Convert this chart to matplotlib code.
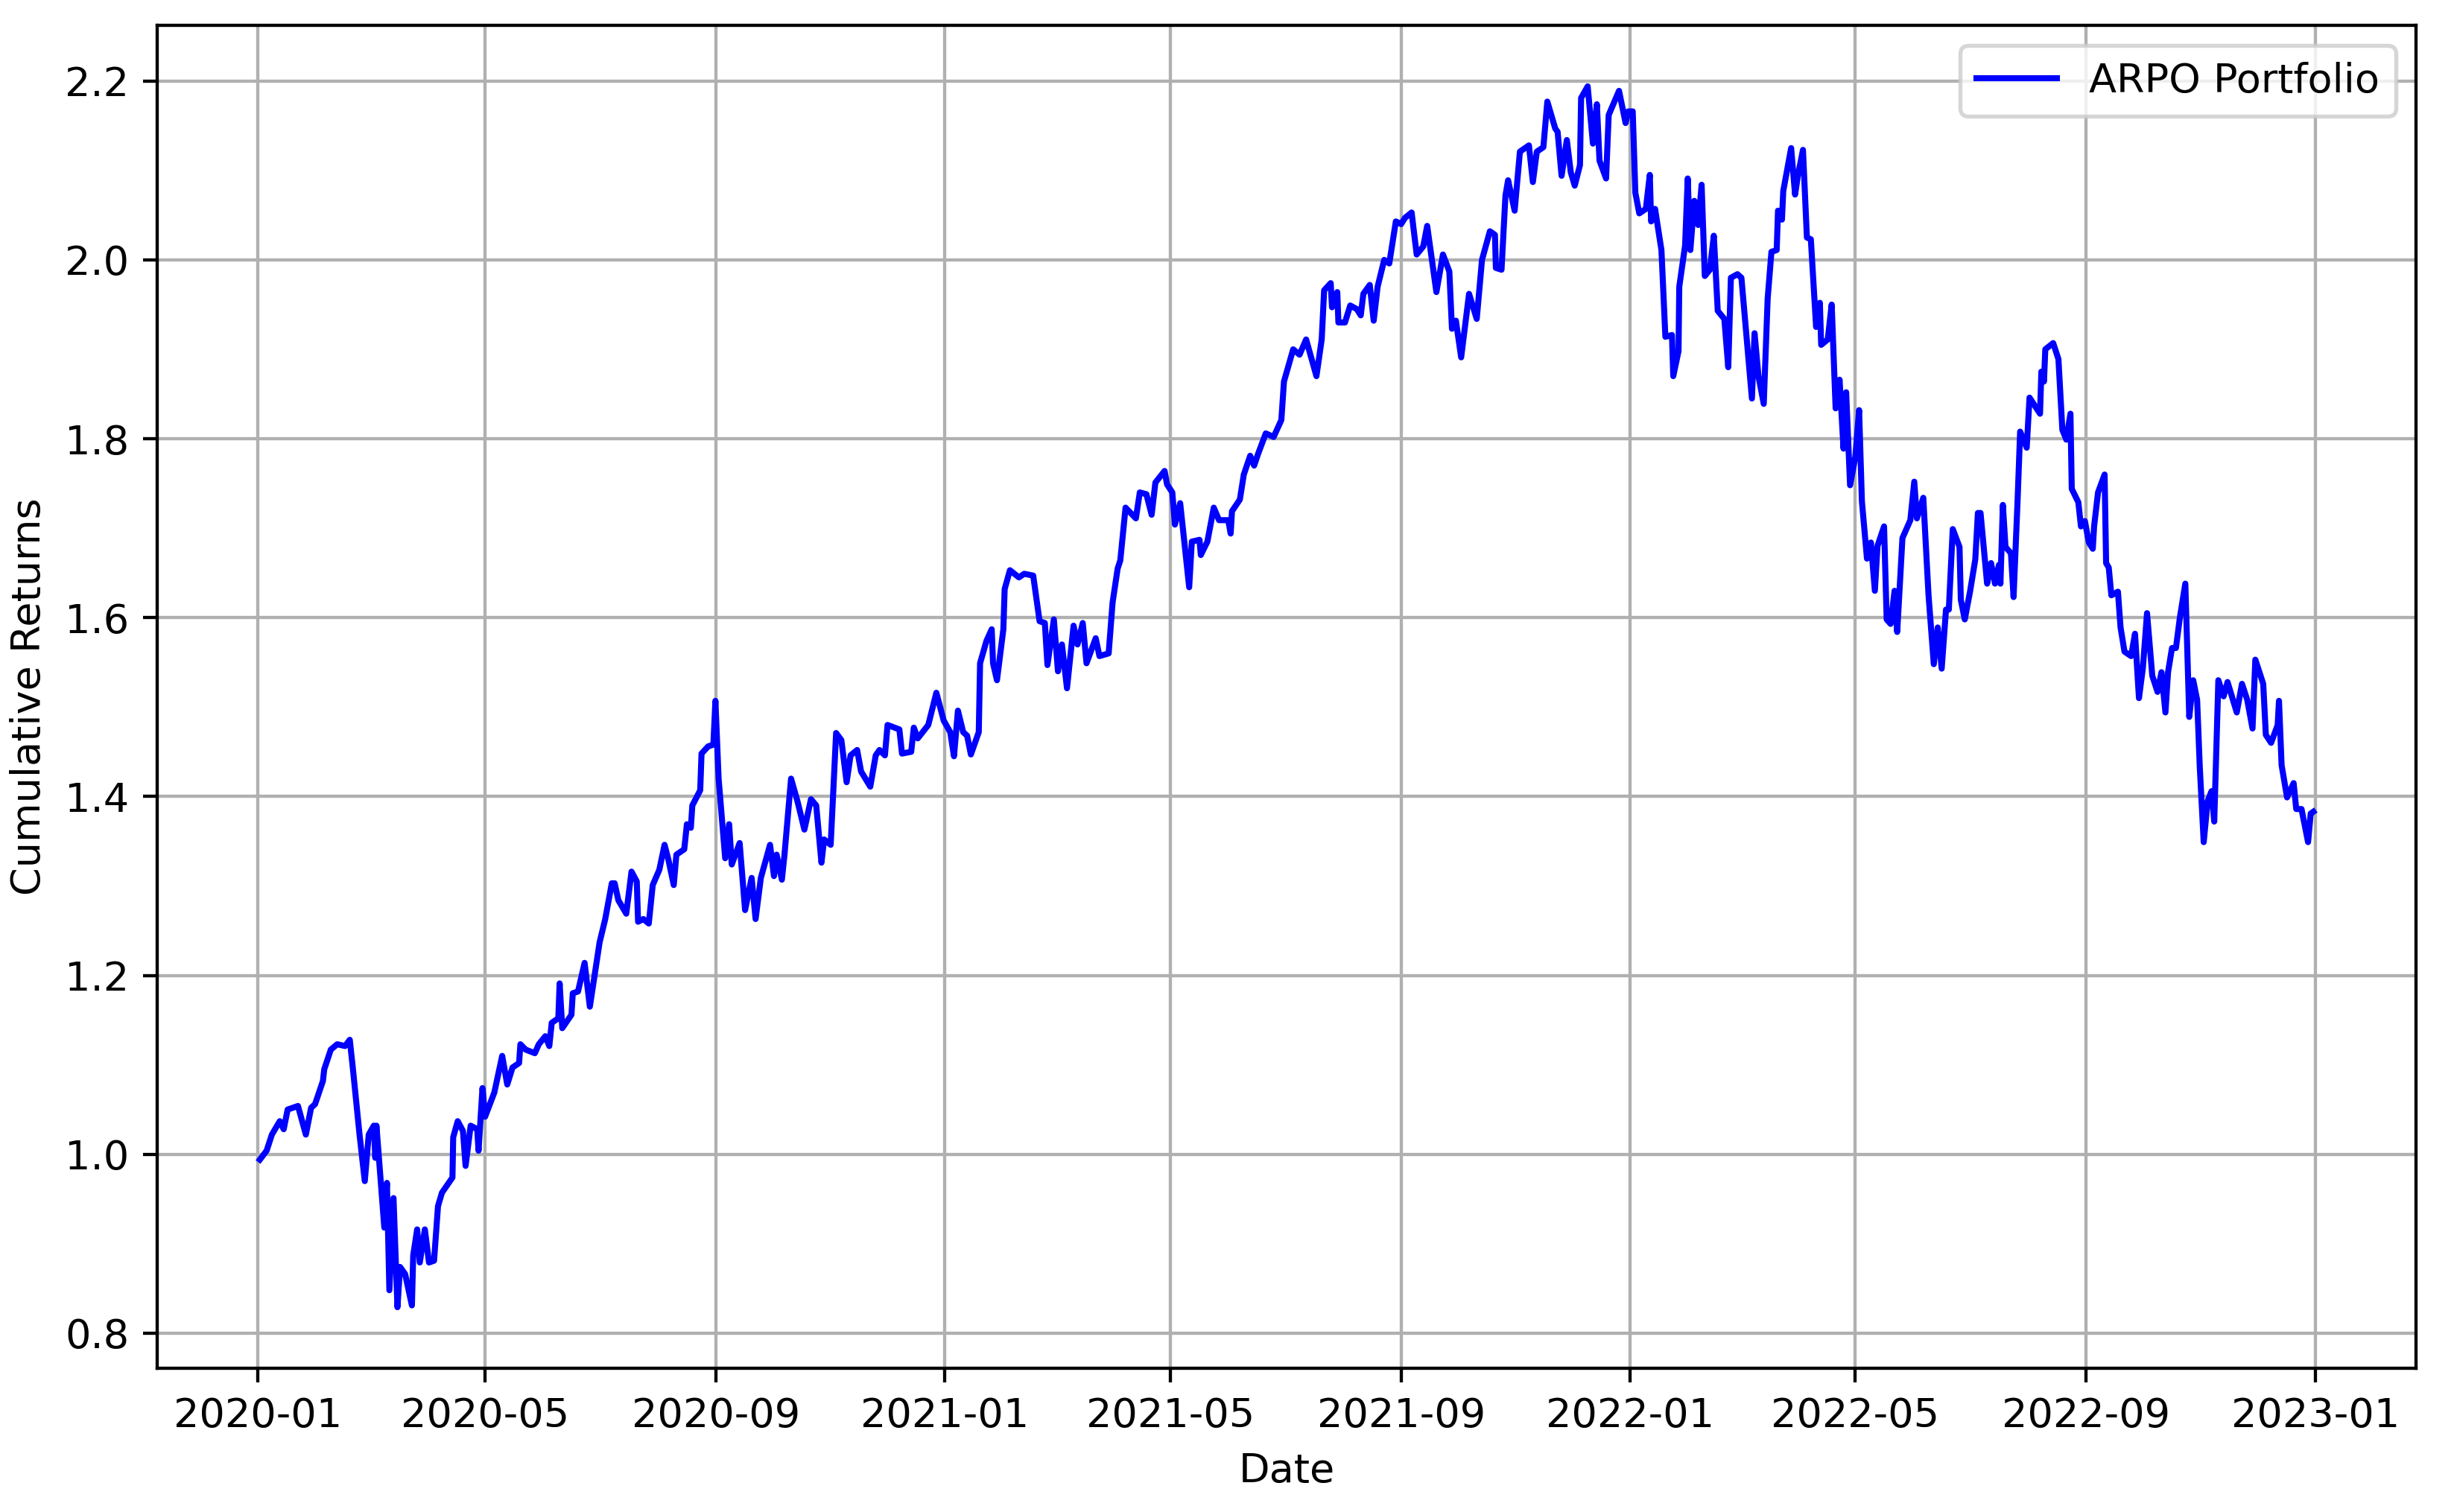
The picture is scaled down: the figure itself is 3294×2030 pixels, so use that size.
import matplotlib
matplotlib.use("Agg")
import matplotlib.pyplot as plt
import matplotlib.dates as mdates
import pandas as pd

# Serie: días desde 2020-01-01 y retorno acumulado
START = "2020-01-01"
DAYS = [
    1, 4.6, 7.4, 11.6, 13.7, 15.8, 21.3, 25.5, 28.3, 30.4, 34.6, 35.3, 38.8, 42.2, 46.4,
    48.9, 50.6, 54.1, 56.9, 59.0, 61.7, 62.5, 63.1, 67.3, 68.7, 70.0, 72.2, 74.3, 75.7,
    78.4, 82.0, 82.7, 84.8, 86.2, 88.9, 91.1, 93.8, 95.9, 98.0, 103.6, 104, 106.4, 109.2,
    110.6, 113.3, 116.8, 117.5, 119.6, 121, 125.9, 130.1, 132.8, 135.6, 139.1, 139.8,
    142.6, 147.5, 149.6, 153.1, 155.2, 156.5, 160, 160.7, 162.1, 167, 167.7, 170.5, 174,
    176.8,
    182, 185, 188.5, 190, 192, 196.2, 199, 201.8, 202.5, 205.3, 208.2, 210.3, 213.8,
    216.6, 218.7, 221.5, 222.9, 227.1, 228.5, 230.6, 231.4, 235.6, 236.3, 239.8, 242.6,
    243.7, 245.4, 248.9, 251, 252.4, 256.6, 259.5, 263, 265.1, 267.9, 272.8, 274.9,
    276.3, 279.1, 280.5, 284, 287.5, 291.1, 294.6, 297.4, 300.2, 301.6, 305.1, 308,
    310.8, 313.6, 315.7, 319.2, 321.3, 326.2, 329.1, 331.1, 334, 335.4, 341.7, 343.1,
    348, 349.4, 351.5, 357.1, 361.4,
    365.3, 368.8, 370.8, 372.9, 375.7, 377.8, 379.8, 384, 384.7, 388.1, 390.9, 391.6,
    393.7, 397.1, 397.8, 400.6, 405.4, 408.2, 413, 416.4, 419.2, 420.6, 424, 426.2,
    428.3, 431, 434.5, 436.6, 439.4, 441.4, 446.3, 448.3, 453.2, 455.3, 458, 459.4,
    462.2, 467.7, 469.8, 473.3, 476.1, 478.1, 483, 484.3, 487.1, 488.5, 491.3, 496.1,
    497.5, 501.6, 502.3, 505.8, 509.2, 512, 516.9, 518.2, 518.9, 523.1, 525.2, 528.6,
    530.7, 532.8, 536.9, 541.1, 545.2, 546.6, 551.5, 554.9, 558.4, 563.9, 566.7,
    568, 571.5, 572.2, 575, 575.6, 579.1, 581.9, 585.4, 587.5, 588.9, 592.3, 594.4,
    596.5, 600, 602.7, 606.2, 609, 611.1, 614.6, 617.3, 620.8, 622.9, 627.8, 631.3,
    634.7, 636.1, 638.2, 641, 645.2, 649.3, 652.1, 656.3, 659, 659.5, 662.5, 664.6, 666,
    669.5, 672.3, 677.1, 679.2, 681.3, 684.8, 686.9, 691.1, 692.4, 694.5, 697.3, 699.4,
    701.5, 704.3, 704.9, 708.4, 711.2, 713.3, 714.7, 718.2, 719.6, 725.1, 728.6, 730,
    732.4, 733.8, 735.9, 739.4, 741.5, 742.2, 744.3, 747.7, 749.8, 753.3, 754, 756.8,
    757.2, 760.3, 761.7, 763.1, 765.2, 767.3, 769.1, 770.8, 773.5, 775.6, 777.7, 781.2,
    783.3, 784.7, 788.2, 790.3, 795.9, 797.3, 799.4, 802.2, 804.3, 806.3, 809.1, 809.8,
    811.9, 812.6, 816.8, 818.9, 820.3, 823.1, 825.2, 827.3, 830.1, 832.1, 832.8, 836.3,
    838.4, 840.5, 842.6, 844.7, 846.1, 848.2, 851, 853, 854.5, 857.2, 859.3, 861.4,
    862.8, 866.3, 867.7, 869.8, 871.9, 873.3, 876.1, 880.3, 882.4, 883.8, 887.2, 890,
    892.8, 894.9, 897,
    899.3, 900.8, 902.9, 906.5, 907.2, 909.3, 912.1, 914.9, 916.3, 917.7, 921.2, 923.3,
    925.4, 927.5, 928.3, 929.6, 931, 933.9, 935.3, 937.4, 938.8, 942.3, 943.8, 946.6,
    949.4, 950.1, 951.5, 952.2, 956.4, 959.2, 961.3, 963.4, 965.6, 966.3, 969.8, 971.2,
    973.3, 975.4, 977.5, 978.2, 980.3, 983.8, 984.6, 986, 987.4, 990.9, 992.3, 994.4,
    997.9, 1000, 1002.1, 1004.2, 1006.4, 1009.2, 1012, 1014.1, 1016.2, 1017.6, 1019.7,
    1021.8, 1023.9, 1026.8, 1028.9, 1031, 1033.1, 1034.5, 1036.6, 1038.7, 1040.8,
    1042.2, 1044.4, 1047.2, 1049.3, 1054.2, 1057, 1059.8, 1062.6, 1064.1, 1068.3,
    1069.7, 1072.5, 1076, 1076.7, 1078.1, 1081, 1084.5, 1085.9, 1088.7, 1092.2, 1093.6,
    1095,
]
RETURNS = [
    0.994, 1.004, 1.022, 1.037, 1.028, 1.050, 1.054, 1.022, 1.052, 1.056, 1.082, 1.095,
    1.117, 1.123, 1.121, 1.128, 1.095, 1.022, 0.970, 1.022, 1.032, 0.996, 1.032, 0.918,
    0.968, 0.848, 0.951, 0.829, 0.874, 0.866, 0.831, 0.887, 0.916, 0.879, 0.916, 0.879,
    0.881, 0.942, 0.957, 0.974, 1.019, 1.037, 1.026, 0.987, 1.032, 1.028, 1.004, 1.074,
    1.042, 1.069, 1.110, 1.078, 1.097, 1.102, 1.123, 1.117, 1.113, 1.123, 1.132, 1.121,
    1.147, 1.152, 1.191, 1.141, 1.156, 1.180, 1.182, 1.214, 1.165,
    1.237, 1.263, 1.303, 1.303, 1.284, 1.269, 1.316, 1.305, 1.260, 1.263, 1.258, 1.301,
    1.318, 1.346, 1.329, 1.301, 1.335, 1.341, 1.369, 1.365, 1.390, 1.407, 1.448, 1.456,
    1.458, 1.507, 1.420, 1.331, 1.369, 1.324, 1.348, 1.273, 1.309, 1.263, 1.309, 1.346,
    1.311, 1.335, 1.307, 1.335, 1.420, 1.394, 1.363, 1.397, 1.390, 1.326, 1.352, 1.346,
    1.471, 1.463, 1.416, 1.446, 1.452, 1.428, 1.411, 1.446, 1.452, 1.446, 1.480, 1.475,
    1.448, 1.450, 1.477, 1.465, 1.480, 1.516,
    1.485, 1.472, 1.445, 1.496, 1.472, 1.468, 1.447, 1.472, 1.549, 1.574, 1.587, 1.549,
    1.530, 1.587, 1.632, 1.653, 1.645, 1.649, 1.647, 1.596, 1.594, 1.547, 1.598, 1.540,
    1.570, 1.521, 1.591, 1.570, 1.594, 1.549, 1.577, 1.557, 1.560, 1.617, 1.655, 1.664,
    1.723, 1.711, 1.740, 1.738, 1.715, 1.751, 1.764, 1.749, 1.740, 1.704, 1.728, 1.634,
    1.685, 1.687, 1.670, 1.685, 1.723, 1.709, 1.709, 1.694, 1.719, 1.732, 1.760, 1.781,
    1.770, 1.783, 1.806, 1.802, 1.821, 1.864, 1.900, 1.894, 1.911, 1.870, 1.911,
    1.966, 1.974, 1.947, 1.964, 1.930, 1.930, 1.949, 1.945, 1.938, 1.962, 1.972, 1.932,
    1.970, 2.000, 1.996, 2.043, 2.040, 2.047, 2.053, 2.006, 2.015, 2.038, 1.964, 2.006,
    1.987, 1.923, 1.932, 1.891, 1.962, 1.934, 2.000, 2.032, 2.028, 1.991, 1.989, 2.072,
    2.089, 2.055, 2.121, 2.128, 2.087, 2.121, 2.126, 2.177, 2.147, 2.143, 2.094, 2.134,
    2.098, 2.083, 2.106, 2.181, 2.194, 2.130, 2.174, 2.111, 2.091, 2.162, 2.189, 2.153,
    2.166,
    2.166, 2.075, 2.052, 2.057, 2.095, 2.043, 2.057, 2.011, 1.914, 1.916, 1.870, 1.898,
    1.970, 2.016, 2.091, 2.011, 2.066, 2.039, 2.084, 1.982, 1.989, 2.027, 1.943, 1.934,
    1.880, 1.980, 1.984, 1.980, 1.845, 1.918, 1.870, 1.839, 1.957, 2.009, 2.011, 2.055,
    2.045, 2.077, 2.125, 2.073, 2.093, 2.123, 2.025, 2.023, 1.925, 1.952, 1.905, 1.911,
    1.950, 1.834, 1.866, 1.789, 1.852, 1.748, 1.780, 1.832, 1.730, 1.666, 1.684, 1.630,
    1.680, 1.702, 1.598, 1.593, 1.630, 1.584, 1.689, 1.709, 1.752, 1.711, 1.734, 1.625,
    1.548, 1.589, 1.543,
    1.609, 1.609, 1.699, 1.679, 1.620, 1.598, 1.629, 1.665, 1.717, 1.717, 1.638, 1.661,
    1.638, 1.659, 1.638, 1.726, 1.679, 1.672, 1.623, 1.729, 1.808, 1.790, 1.846, 1.837,
    1.828, 1.875, 1.864, 1.900, 1.907, 1.889, 1.810, 1.799, 1.828, 1.744, 1.729, 1.702,
    1.708, 1.684, 1.677, 1.702, 1.740, 1.760, 1.661, 1.656, 1.625, 1.629, 1.589, 1.562,
    1.557, 1.582, 1.510, 1.544, 1.605, 1.535, 1.517, 1.539, 1.494, 1.539, 1.566,
    1.566, 1.600, 1.638, 1.489, 1.530, 1.508, 1.433, 1.349, 1.395, 1.406,
    1.372, 1.530, 1.512, 1.528, 1.494, 1.526, 1.508, 1.476, 1.553, 1.526,
    1.469, 1.460, 1.480, 1.507, 1.435, 1.399, 1.415, 1.386, 1.386, 1.349, 1.381,
    1.383,
]

DPI = 389.4
W_PX, H_PX = 3294, 2030

fechas = pd.Timestamp(START) + pd.to_timedelta(DAYS, unit="D")

fig, ax = plt.subplots(figsize=(W_PX / DPI, H_PX / DPI), dpi=DPI)
fig.subplots_adjust(left=211 / W_PX, right=3243 / W_PX,
                    top=1 - 34 / H_PX, bottom=1 - 1837 / H_PX)

ax.plot(fechas, RETURNS, color="blue", linewidth=1.5, label="ARPO Portfolio")
ax.set_xlabel("Date")
ax.set_ylabel("Cumulative Returns")
ax.legend(loc="upper right")
ax.grid(True)
ax.xaxis.set_major_locator(mdates.MonthLocator(bymonth=[1, 5, 9]))
ax.xaxis.set_major_formatter(mdates.DateFormatter("%Y-%m"))

fig.savefig("out.png", dpi=DPI)
plt.close(fig)
